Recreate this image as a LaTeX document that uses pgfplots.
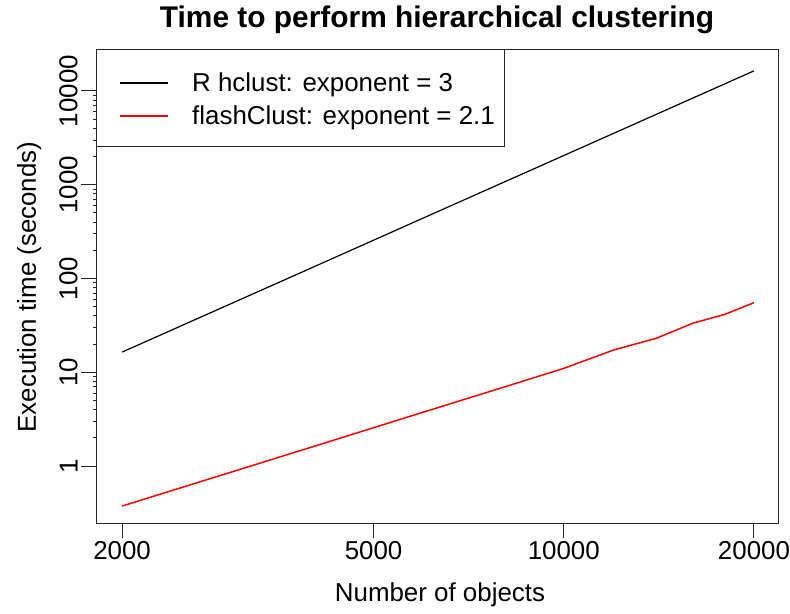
\documentclass[border=0pt]{standalone}
\usepackage{pgfplots}
\pgfplotsset{compat=1.18}
\usepackage{fontspec}
\setmainfont{Liberation Sans}
\usetikzlibrary{calc}

\pgfplotstableread{
x y
2000 16.4
4000 131
6000 443
8000 1050
10000 2050
12000 3542
14000 5625
16000 8397
18000 11956
20000 16400
}\hclust

\pgfplotstableread{
x y
2000 0.374
4000 1.60
6000 3.76
8000 6.87
10000 11.0
12000 17.3
14000 23.0
16000 33.3
18000 41.5
20000 55.2
}\flash

\begin{document}
\begin{tikzpicture}
\begin{axis}[name=ax,
  scale only axis, width=682bp, height=473bp,
  xmode=log, ymode=log,
  xmin=1819, xmax=21830, ymin=0.2466, ymax=27370,
  xtick={2000,5000,10000,20000}, xticklabels={2000,5000,10000,20000},
  ytick={1,10,100,1000,10000}, yticklabels={1,10,100,1000,10000},
  minor xtick={}, minor ytick={},
  tick pos=left, tick align=outside, major tick length=15bp,
  /pgf/number format/assume math mode=true,
  tick label style={font=\fontsize{26}{30}\selectfont, text=black},
  yticklabel style={rotate=90, anchor=south},
  axis line style={line width=1bp, black!85},
  every tick/.style={line width=1bp, black!85},
  clip=true,
]
\addplot[black, line width=1.2bp, no marks] table[x=x,y=y] {\hclust};
\addplot[red, line width=1.5bp, no marks] table[x=x,y=y] {\flash};
\end{axis}
% legend
\draw[line width=1bp, black!85, fill=white] ($(ax.north west)+(0,0)$) rectangle ($(ax.north west)+(408bp,-97bp)$);
\draw[black, line width=1.2bp] ($(ax.north west)+(24bp,-33bp)$) -- ++(48bp,0);
\draw[red, line width=1.5bp] ($(ax.north west)+(24bp,-66bp)$) -- ++(48bp,0);
\node[anchor=base west, font=\fontsize{26}{30}\selectfont, inner sep=0pt] at ($(ax.north west)+(96bp,-42bp)$) {R hclust: exponent = 3};
\node[anchor=base west, font=\fontsize{26}{30}\selectfont, inner sep=0pt] at ($(ax.north west)+(96bp,-75bp)$) {flashClust: exponent = 2.1};
% title and labels
\node[anchor=base, font=\fontsize{30}{34}\selectfont\bfseries, inner sep=0pt] at ($(ax.south west)+(341bp,495bp)$) {Time to perform hierarchical clustering};
\node[anchor=base, font=\fontsize{26}{30}\selectfont, inner sep=0pt] at ($(ax.south west)+(344bp,-78bp)$) {Number of objects};
\node[anchor=base, rotate=90, font=\fontsize{26}{30}\selectfont, inner sep=0pt] at ($(ax.south west)+(-60bp,236bp)$) {Execution time (seconds)};
\pgfresetboundingbox
\path[use as bounding box] ($(ax.south west)+(-96bp,-91bp)$) rectangle ($(ax.south west)+(694bp,523bp)$);
\end{tikzpicture}
\end{document}
